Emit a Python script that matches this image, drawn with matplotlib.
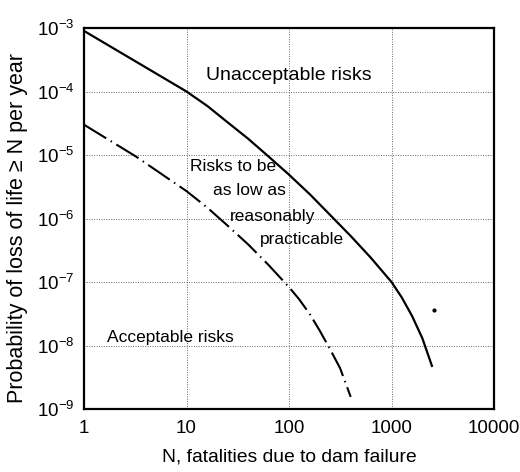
import numpy as np
import matplotlib
matplotlib.use('Agg')
import matplotlib.pyplot as plt

plt.rcParams['font.family'] = ['Liberation Sans', 'DejaVu Sans']
plt.rcParams['mathtext.fontset'] = 'custom'
plt.rcParams['mathtext.rm'] = 'Liberation Sans'
plt.rcParams['mathtext.it'] = 'Liberation Sans'

# Hranice mezi nepřijatelným a ALARP pásmem
n_upper = [1, 10, 16, 25, 40, 63, 100, 160, 250, 400, 630, 1000, 1260, 1590, 2000, 2500]
p_upper = [9e-4, 1e-4, 5.9e-5, 3.3e-5, 1.8e-5, 9.5e-6, 4.9e-6, 2.4e-6, 1.15e-6,
           5.3e-7, 2.4e-7, 1e-7, 5.7e-8, 2.9e-8, 1.3e-8, 4.6e-9]

# Hranice mezi ALARP a přijatelným pásmem
n_lower = [1, 3.2, 10, 16, 25, 40, 63, 100, 125, 160, 200, 250, 315, 400]
p_lower = [3e-5, 9.5e-6, 2.7e-6, 1.48e-6, 7.8e-7, 3.9e-7, 1.86e-7, 8.3e-8,
           5.4e-8, 3.1e-8, 1.7e-8, 8.9e-9, 4.4e-9, 1.55e-9]

# osamocený bod vpravo
n_dot = [2600]
p_dot = [3.6e-8]

x_ticks = [1, 10, 100, 1000, 10000]
x_labels = ['1', '10', '100', '1000', '10000']
y_exps = [-9, -8, -7, -6, -5, -4, -3]

fig = plt.figure(figsize=(5.2, 4.72), dpi=100)
ax = fig.add_axes([84 / 520, 1 - 409 / 472, 410 / 520, 381 / 472])

ax.plot(n_upper, p_upper, color='black', lw=1.6, solid_capstyle='butt')
ax.plot(n_lower, p_lower, color='black', lw=1.5,
        linestyle=(0, (12.5, 2.5, 0.7, 2.5)), dash_capstyle='butt')
ax.plot(n_dot, p_dot, 'o', color='black', ms=2)

ax.set_xscale('log')
ax.set_yscale('log')
ax.set_xlim(1, 10000)
ax.set_ylim(1e-9, 1e-3)

ax.set_xticks(x_ticks)
ax.set_xticklabels(x_labels)
ax.set_yticks([10.0 ** e for e in y_exps])
ax.set_yticklabels([r'$\mathregular{10^{%d}}$' % e for e in y_exps])
ax.minorticks_off()
ax.tick_params(length=0, labelsize=13.5)
ax.tick_params(axis='x', pad=8)
ax.tick_params(axis='y', pad=7)

ax.grid(True, which='major', color='0.4', linestyle=(0, (1, 1.5)), lw=0.7)
for s in ax.spines.values():
    s.set_linewidth(1.6)

ax.set_xlabel('N, fatalities due to dam failure', fontsize=13.9, labelpad=8)
ax.set_ylabel('Probability of loss of life \u2265 N per year', fontsize=15.5)
ax.yaxis.set_label_coords(-0.137, 0.475)

# popisky pásem
fs = 12.5
ax.text(15.6, 1.8e-4, 'Unacceptable risks', fontsize=14, va='center', ha='left')
ax.text(10.7, 6.5e-6, 'Risks to be', fontsize=fs, va='center', ha='left')
ax.text(18, 2.8e-6, 'as low as', fontsize=fs, va='center', ha='left')
ax.text(26.7, 1.07e-6, 'reasonably', fontsize=fs, va='center', ha='left')
ax.text(51.6, 4.6e-7, 'practicable', fontsize=fs, va='center', ha='left')
ax.text(1.66, 1.33e-8, 'Acceptable risks', fontsize=fs, va='center', ha='left')

fig.savefig('out.png', dpi=100)
